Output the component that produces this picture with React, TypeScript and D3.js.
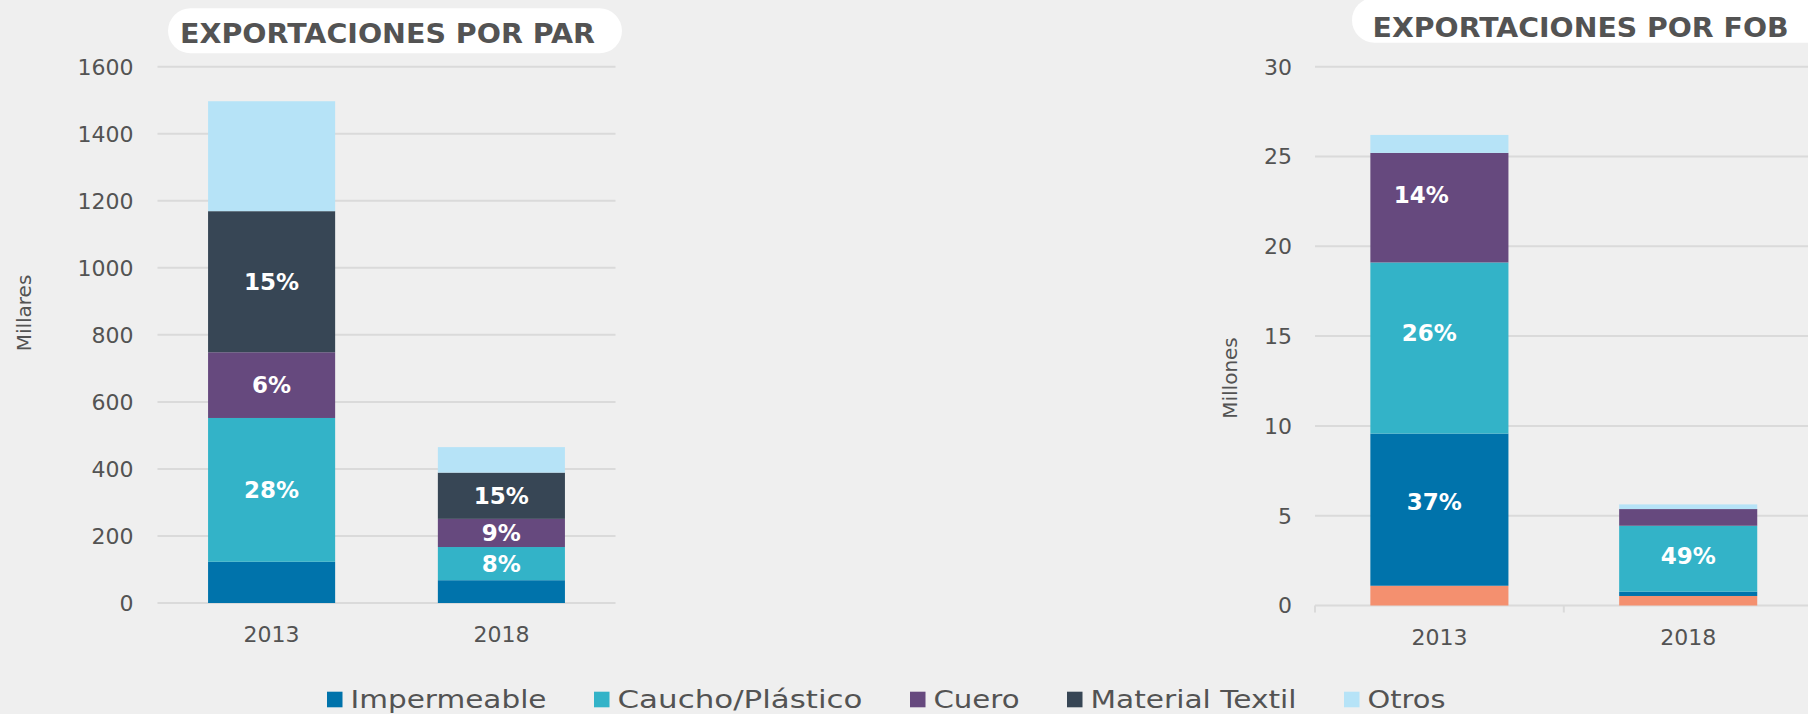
import React from "react";
import * as d3 from "d3";

const years = ["2013", "2018"];
const seriesNames = ["Otro", "Impermeable", "Caucho/Plástico", "Cuero", "Material Textil", "Otros"];
const seriesColors = ["#f4906f", "#0073ab", "#33b3c8", "#66497e", "#374655", "#b6e3f7"];

// Exportaciones por par (Millares)
const parOtro = [0, 0];
const parImpermeable = [123, 68];
const parCaucho = [429, 99];
const parCuero = [196, 84];
const parTextil = [421, 138];
const parOtros = [328, 76];
const parLabels = [
  ["", "", "28%", "6%", "15%", ""],
  ["", "", "8%", "9%", "15%", ""],
];
const parTicks = [0, 200, 400, 600, 800, 1000, 1200, 1400, 1600];

// Exportaciones por FOB (Millones)
const fobOtro = [1.1, 0.53];
const fobImpermeable = [8.47, 0.24];
const fobCaucho = [9.53, 3.67];
const fobCuero = [6.1, 0.93];
const fobTextil = [0, 0];
const fobOtros = [1.0, 0.26];
const fobLabels = [
  ["", "37%", "26%", "14%", "", ""],
  ["", "", "49%", "", "", ""],
];
const fobTicks = [0, 5, 10, 15, 20, 25, 30];

const legendNames = ["Impermeable", "Caucho/Plástico", "Cuero", "Material Textil", "Otros"];
const legendColors = ["#0073ab", "#33b3c8", "#66497e", "#374655", "#b6e3f7"];

// layout only (pixel nudges of the value labels, and legend text widths)
const legendWidths = [196, 245, 86, 206, 78];
const fobLabelShift: [number, number][][] = [
  [[0, 0], [-5, -8], [-10, -15], [-18, -13], [0, 0], [0, 0]],
  [[0, 0], [0, 0], [0, -3], [0, 0], [0, 0], [0, 0]],
];
const noShift: [number, number][][] = [
  [[0, 0], [0, 0], [0, 0], [0, 0], [0, 0], [0, 0]],
  [[0, 0], [0, 0], [0, 0], [0, 0], [0, 0], [0, 0]],
];

const FONT = "'DejaVu Sans', sans-serif";
const TXT = "#535353";
const GRID = "#dadada";

function buildStack(cols: number[][]) {
  const rows = years.map((y, i) => {
    const r: any = { year: y };
    seriesNames.forEach((s, k) => (r[s] = cols[k][i]));
    return r;
  });
  return d3.stack<any>().keys(seriesNames)(rows);
}

function Panel(props: {
  stack: any;
  labels: string[][];
  shifts: [number, number][][];
  ticks: number[];
  yMax: number;
  yRange: [number, number];
  xRange: [number, number];
  gridX: [number, number];
  padInner: number;
  padOuter: number;
  barFrac: number;
  tickLabelX: number;
  xLabelY: number;
  axisTitle: string;
  axisTitleX: number;
  axisTitleY: number;
  showTickMarks: boolean;
}) {
  const p = props;
  const x = d3.scaleBand<string>().domain(years).range(p.xRange).paddingInner(p.padInner).paddingOuter(p.padOuter);
  const y = d3.scaleLinear().domain([0, p.yMax]).range(p.yRange);
  const bw = x.bandwidth() * p.barFrac;
  const cx = (yr: string) => (x(yr) as number) + x.bandwidth() / 2;
  return (
    <g>
      {p.ticks.map((t) => (
        <g key={t}>
          <line x1={p.gridX[0]} x2={p.gridX[1]} y1={y(t)} y2={y(t)} stroke={GRID} strokeWidth={2} />
          <text x={p.tickLabelX} y={y(t)} dy="0.36em" textAnchor="end" fontSize={22} fill={TXT} fontFamily={FONT}>
            {t}
          </text>
        </g>
      ))}
      {p.showTickMarks &&
        years.map((yr) => (
          <line key={yr} x1={x(yr)} x2={x(yr)} y1={y(0)} y2={y(0) + 7} stroke={GRID} strokeWidth={2} />
        ))}
      {p.stack.map((layer: any, k: number) =>
        layer.map((seg: any, i: number) => {
          const h = y(seg[0]) - y(seg[1]);
          if (h <= 0) return null;
          return (
            <rect
              key={k + "-" + i}
              x={cx(years[i]) - bw / 2}
              y={y(seg[1])}
              width={bw}
              height={h}
              fill={seriesColors[k]}
            />
          );
        })
      )}
      {p.stack.map((layer: any, k: number) =>
        layer.map((seg: any, i: number) => {
          const lab = p.labels[i][k];
          if (!lab) return null;
          const [sx, sy] = p.shifts[i][k];
          return (
            <text
              key={"l" + k + "-" + i}
              x={cx(years[i]) + sx}
              y={(y(seg[0]) + y(seg[1])) / 2 + sy}
              dy="0.36em"
              textAnchor="middle"
              fontSize={23}
              fontWeight="bold"
              fill="#ffffff"
              fontFamily={FONT}
            >
              {lab}
            </text>
          );
        })
      )}
      {years.map((yr) => (
        <text key={"x" + yr} x={cx(yr)} y={p.xLabelY} textAnchor="middle" fontSize={22} fill={TXT} fontFamily={FONT}>
          {yr}
        </text>
      ))}
      <text
        transform={`translate(${p.axisTitleX},${p.axisTitleY}) rotate(-90)`}
        textAnchor="middle"
        fontSize={20}
        fill={TXT}
        fontFamily={FONT}
      >
        {p.axisTitle}
      </text>
    </g>
  );
}

export default function App() {
  const parStack = buildStack([parOtro, parImpermeable, parCaucho, parCuero, parTextil, parOtros]);
  const fobStack = buildStack([fobOtro, fobImpermeable, fobCaucho, fobCuero, fobTextil, fobOtros]);

  let lx = 327;
  const legendItems = legendNames.map((n, i) => {
    const item = { name: n, color: legendColors[i], x: lx, w: legendWidths[i] };
    lx += 15.5 + 8 + legendWidths[i] + 47.5;
    return item;
  });

  return (
    <svg
      width={1808}
      height={714}
      style={{ position: "absolute", left: 0, top: 0, background: "#efefef" }}
    >
      <rect x={0} y={0} width={1808} height={714} fill="#efefef" />
      {/* titles */}
      <rect x={168} y={8.3} width={454} height={45} rx={22.5} fill="#ffffff" />
      <text x={180} y={43.3} fontSize={26} fontWeight="bold" fill={TXT} fontFamily={FONT} textLength={415} lengthAdjust="spacingAndGlyphs">
        EXPORTACIONES POR PAR
      </text>
      <rect x={1352} y={-2.3} width={480} height={45} rx={22.5} fill="#ffffff" />
      <text x={1372.6} y={36.7} fontSize={26} fontWeight="bold" fill={TXT} fontFamily={FONT} textLength={416} lengthAdjust="spacingAndGlyphs">
        EXPORTACIONES POR FOB
      </text>

      <Panel
        stack={parStack}
        labels={parLabels}
        shifts={noShift}
        ticks={parTicks}
        yMax={1600}
        yRange={[603, 66.7]}
        xRange={[157.5, 615.5]}
        gridX={[157.5, 615.5]}
        padInner={0.447}
        padOuter={0.22}
        barFrac={1}
        tickLabelX={133.5}
        xLabelY={642}
        axisTitle="Millares"
        axisTitleX={31}
        axisTitleY={313}
        showTickMarks={false}
      />
      <Panel
        stack={fobStack}
        labels={fobLabels}
        shifts={fobLabelShift}
        ticks={fobTicks}
        yMax={30}
        yRange={[605.5, 66.7]}
        xRange={[1315, 1812.6]}
        gridX={[1315, 1808]}
        padInner={0}
        padOuter={0}
        barFrac={0.555}
        tickLabelX={1292}
        xLabelY={645}
        axisTitle="Millones"
        axisTitleX={1237}
        axisTitleY={378}
        showTickMarks={true}
      />

      {/* legend */}
      {legendItems.map((it) => (
        <g key={it.name}>
          <rect x={it.x} y={691.7} width={15.5} height={15.6} fill={it.color} />
          <text x={it.x + 23.5} y={708} fontSize={25} fill={TXT} fontFamily={FONT} textLength={it.w} lengthAdjust="spacingAndGlyphs">
            {it.name}
          </text>
        </g>
      ))}
    </svg>
  );
}
